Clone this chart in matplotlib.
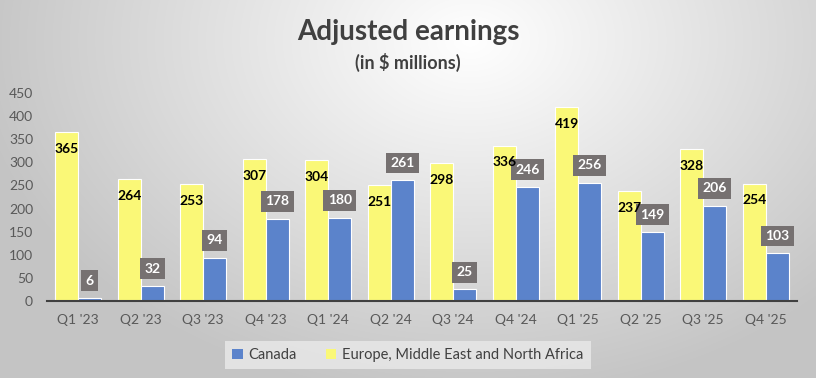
import numpy as np
import matplotlib
matplotlib.use("Agg")
import matplotlib.pyplot as plt
from matplotlib.patches import Patch

quarters = ["Q1 '23", "Q2 '23", "Q3 '23", "Q4 '23", "Q1 '24", "Q2 '24",
            "Q3 '24", "Q4 '24", "Q1 '25", "Q2 '25", "Q3 '25", "Q4 '25"]
emea = [365, 264, 253, 307, 304, 251, 298, 336, 419, 237, 328, 254]
canada = [6, 32, 94, 178, 180, 261, 25, 246, 256, 149, 206, 103]
yticks = [0, 50, 100, 150, 200, 250, 300, 350, 400, 450]

plt.rcParams['font.family'] = ['Lato', 'DejaVu Sans']

W, H = 816, 378
fig = plt.figure(figsize=(W / 100, H / 100), dpi=100)

# background radial gradient
bg = fig.add_axes([0, 0, 1, 1], zorder=-10)
yy, xx = np.mgrid[0:H, 0:W]
cx, cy = 470, 40
d = np.sqrt(((xx - cx) / 500.0) ** 2 + ((yy - cy) / 360.0) ** 2)
d = np.clip(d, 0, 1)
light = np.array([1.0, 1.0, 1.0])
dark = np.array([0.77, 0.77, 0.77])
img = light[None, None, :] * (1 - d[..., None]) + dark[None, None, :] * d[..., None]
bg.imshow(img, aspect='auto', extent=[0, W, H, 0])
bg.axis('off')

ax = fig.add_axes([47 / W, 1 - 301 / H, 750 / W, 208 / H])
ax.set_facecolor('none')

x = np.arange(len(quarters))
bw = 0.37
yellow = '#FAF877'
blue = '#5B83CB'
ax.bar(x - bw / 2, emea, width=bw, color=yellow, edgecolor='white', linewidth=0.8, zorder=2)
ax.bar(x + bw / 2, canada, width=bw, color=blue, edgecolor='white', linewidth=0.8, zorder=2)

for xi, v in zip(x, emea):
    ax.annotate(str(v), xy=(xi - bw / 2, v), xytext=(0, -12), textcoords='offset points',
                ha='center', va='center', fontsize=10, fontweight='bold', color='black', zorder=6)
for xi, v in zip(x, canada):
    ax.annotate(str(v), xy=(xi + bw / 2, v), xytext=(0, 12.5), textcoords='offset points',
                ha='center', va='center', fontsize=10, fontweight='bold', color='white', zorder=5,
                bbox=dict(boxstyle='square,pad=0.32', fc='#767171', ec='none'))

ax.set_xlim(-0.5, len(quarters) - 0.5)
ax.set_ylim(0, 450)
ax.set_yticks(yticks)
ax.set_xticks(x)
ax.set_xticklabels(quarters)
ax.tick_params(axis='both', length=0, labelsize=10, colors='#595959')
ax.tick_params(axis='x', pad=9)
ax.tick_params(axis='y', pad=10)
for s in ['top', 'right', 'left']:
    ax.spines[s].set_visible(False)
ax.spines['bottom'].set_color('#404040')
ax.spines['bottom'].set_linewidth(1.5)
ax.spines['bottom'].set_zorder(3)

fig.text(408 / W, 1 - 32 / H, 'Adjusted earnings', ha='center', va='center',
         fontsize=20, fontweight='bold', color='#404040')
fig.text(408 / W, 1 - 62 / H, '(in $ millions)', ha='center', va='center',
         fontsize=13, fontweight='bold', color='#404040')

handles = [Patch(facecolor=blue, edgecolor='none', label='Canada'),
           Patch(facecolor=yellow, edgecolor='none', label='Europe, Middle East and North Africa')]
leg = fig.legend(handles=handles, loc='center', bbox_to_anchor=(408 / W, 1 - 355 / H),
                 ncol=2, frameon=True, fontsize=10.5, handlelength=0.7, handleheight=0.7,
                 columnspacing=2.0, handletextpad=0.4, borderpad=0.5, fancybox=False,
                 labelcolor='#404040')
leg.get_frame().set_facecolor('#E6E6E6')
leg.get_frame().set_edgecolor('none')
leg.get_frame().set_alpha(0.9)

fig.savefig('out.png', dpi=100)
